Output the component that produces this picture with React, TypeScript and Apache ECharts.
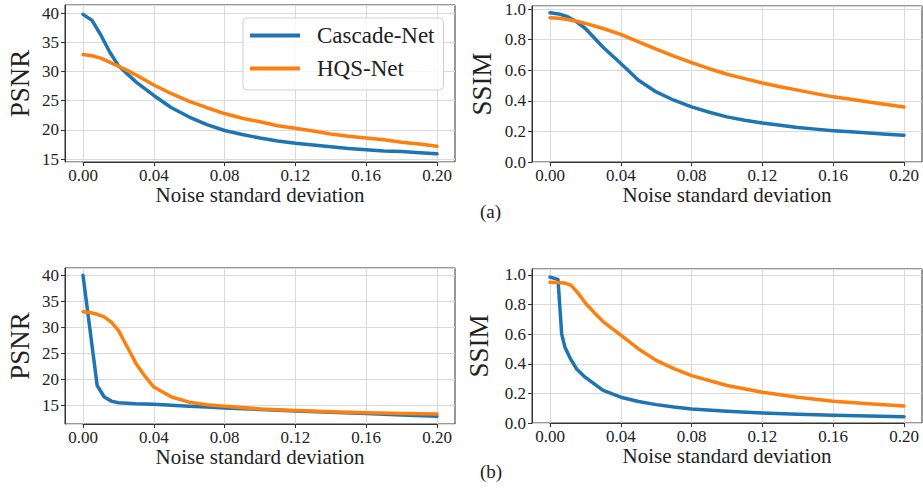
import React, { useEffect, useRef } from "react";
import * as echarts from "echarts";

// ---------- data ----------
const SERIES_NAMES = ["Cascade-Net", "HQS-Net"];
const X_LABEL = "Noise standard deviation";

// (a) PSNR
const aPsnrX = [0, 0.005, 0.01, 0.015, 0.02, 0.025, 0.03, 0.04, 0.05, 0.06, 0.07, 0.08, 0.09, 0.1, 0.11, 0.12, 0.13, 0.14, 0.15, 0.16, 0.17, 0.18, 0.19, 0.2];
const aPsnrCascade = [39.8, 38.8, 36.3, 33.4, 31.0, 29.6, 28.2, 25.9, 23.8, 22.2, 20.9, 19.9, 19.2, 18.6, 18.1, 17.7, 17.4, 17.1, 16.8, 16.6, 16.4, 16.3, 16.1, 15.9];
const aPsnrHqs = [32.9, 32.7, 32.3, 31.6, 30.9, 30.2, 29.4, 27.7, 26.2, 24.9, 23.8, 22.8, 22.0, 21.4, 20.7, 20.3, 19.8, 19.3, 18.9, 18.6, 18.3, 17.9, 17.6, 17.2];

// (a) SSIM
const aSsimX = [0, 0.005, 0.01, 0.015, 0.02, 0.03, 0.04, 0.05, 0.06, 0.07, 0.08, 0.09, 0.1, 0.11, 0.12, 0.13, 0.14, 0.15, 0.16, 0.17, 0.18, 0.19, 0.2];
const aSsimCascade = [0.976, 0.968, 0.95, 0.917, 0.873, 0.75, 0.644, 0.535, 0.458, 0.404, 0.36, 0.325, 0.295, 0.273, 0.255, 0.24, 0.226, 0.215, 0.205, 0.197, 0.19, 0.182, 0.175];
const aSsimHqs = [0.943, 0.94, 0.932, 0.92, 0.906, 0.873, 0.834, 0.786, 0.738, 0.692, 0.65, 0.61, 0.574, 0.545, 0.517, 0.492, 0.47, 0.447, 0.426, 0.41, 0.393, 0.376, 0.36];

// (b) PSNR
const bPsnrCascadeX = [0, 0.004, 0.008, 0.012, 0.016, 0.02, 0.025, 0.03, 0.035, 0.04, 0.05, 0.06, 0.07, 0.08, 0.1, 0.12, 0.14, 0.16, 0.18, 0.2];
const bPsnrCascade = [40.0, 29.4, 18.8, 16.6, 15.8, 15.5, 15.4, 15.3, 15.25, 15.2, 15.0, 14.8, 14.65, 14.5, 14.2, 13.9, 13.65, 13.4, 13.15, 12.9];
const bPsnrHqsX = [0, 0.004, 0.008, 0.012, 0.016, 0.02, 0.025, 0.03, 0.035, 0.04, 0.05, 0.06, 0.07, 0.08, 0.1, 0.12, 0.14, 0.16, 0.18, 0.2];
const bPsnrHqs = [33.0, 32.85, 32.5, 32.0, 31.0, 29.4, 26.2, 23.0, 20.6, 18.5, 16.6, 15.6, 15.1, 14.8, 14.3, 14.0, 13.75, 13.55, 13.4, 13.3];

// (b) SSIM
const bSsimCascadeX = [0, 0.0045, 0.0053, 0.0066, 0.0085, 0.0115, 0.015, 0.02, 0.03, 0.04, 0.05, 0.06, 0.07, 0.08, 0.1, 0.12, 0.14, 0.16, 0.18, 0.2];
const bSsimCascade = [0.985, 0.97, 0.83, 0.6, 0.51, 0.435, 0.365, 0.308, 0.22, 0.174, 0.145, 0.124, 0.108, 0.095, 0.079, 0.068, 0.059, 0.052, 0.047, 0.043];
const bSsimHqsX = [0, 0.004, 0.008, 0.012, 0.016, 0.02, 0.025, 0.03, 0.04, 0.05, 0.06, 0.07, 0.08, 0.1, 0.12, 0.14, 0.16, 0.18, 0.2];
const bSsimHqs = [0.95, 0.949, 0.946, 0.93, 0.875, 0.81, 0.745, 0.685, 0.593, 0.5, 0.423, 0.367, 0.32, 0.253, 0.208, 0.174, 0.147, 0.13, 0.115];

// ---------- styling ----------
const FONT = "Liberation Serif";
const BLUE = "#1f75b2";
const ORANGE = "#ff7f0e";
const AXIS_COLOR = "#333";
const TEXT_COLOR = "#222";
const GRID_COLOR = "#d9d9d9";

const zip = (xs: number[], ys: number[]) => xs.map((x, i) => [x, ys[i]]);

// panel layout: outer box (matplotlib axes) and inner data span (x 0..0.2)
const PANELS = [
  { left: 65, top: 5, height: 157, yName: "PSNR", yMin: 14.5, yMax: 41.4, yInterval: 5, digits: 0, nameGap: 32 },
  { left: 532, top: 6, height: 156, yName: "SSIM", yMin: 0, yMax: 1.02, yInterval: 0.2, digits: 1, nameGap: 37 },
  { left: 65, top: 268, height: 156, yName: "PSNR", yMin: 11.4, yMax: 41.4, yInterval: 5, digits: 0, nameGap: 32 },
  { left: 532, top: 269, height: 154, yName: "SSIM", yMin: 0, yMax: 1.04, yInterval: 0.2, digits: 1, nameGap: 40 },
];
const OUTER_W = 390;
const INNER_OFFSET = 18;
const INNER_W = 354;

const labelStyle = { fontSize: 17, color: TEXT_COLOR, fontFamily: FONT };

function line(name: string, color: string, idx: number, data: number[][]) {
  return {
    type: "line",
    name,
    xAxisIndex: idx,
    yAxisIndex: idx,
    data,
    symbol: "none",
    smooth: false,
    lineStyle: { color, width: 3.5, join: "round", cap: "round" },
    itemStyle: { color },
    z: 3,
  };
}

export default function App() {
  const ref = useRef<HTMLDivElement>(null);

  useEffect(() => {
    if (!ref.current) return;
    const chart = echarts.init(ref.current, null, { renderer: "svg" });

    const grids: any[] = [];
    const xAxes: any[] = [];
    const yAxes: any[] = [];
    PANELS.forEach((p, i) => {
      // outer grid: box + y axis
      grids.push({ left: p.left, top: p.top, width: OUTER_W, height: p.height, show: true, borderColor: AXIS_COLOR, borderWidth: 1, backgroundColor: "transparent" });
      // inner grid: x span of data
      grids.push({ left: p.left + INNER_OFFSET, top: p.top, width: INNER_W, height: p.height, show: false });

      xAxes.push({ type: "value", gridIndex: 2 * i, min: -0.01, max: 0.21, show: false });
      xAxes.push({
        type: "value",
        gridIndex: 2 * i + 1,
        min: 0,
        max: 0.2,
        interval: 0.04,
        axisLine: { show: true, onZero: false, lineStyle: { color: AXIS_COLOR, width: 1 } },
        axisTick: { show: true, length: 4, lineStyle: { color: AXIS_COLOR } },
        axisLabel: { ...labelStyle, margin: 5, formatter: (v: number) => v.toFixed(2) },
        splitLine: { show: true, lineStyle: { color: GRID_COLOR, width: 1 } },
        name: X_LABEL,
        nameLocation: "middle",
        nameGap: 22,
        nameTextStyle: { fontSize: 21, color: TEXT_COLOR, fontFamily: FONT },
      });

      const yCommon = { type: "value", min: p.yMin, max: p.yMax };
      yAxes.push({
        ...yCommon,
        gridIndex: 2 * i,
        ...(p.yMin === 0 ? { interval: p.yInterval } : { splitNumber: 5 }),
        axisLine: { show: true, onZero: false, lineStyle: { color: AXIS_COLOR, width: 1 } },
        axisTick: { show: true, length: 4, lineStyle: { color: AXIS_COLOR } },
        axisLabel: {
          ...labelStyle,
          margin: 6,
          showMinLabel: p.yMin === 0,
          showMaxLabel: false,
          formatter: (v: number) => v.toFixed(p.digits),
        },
        splitLine: { show: true, lineStyle: { color: GRID_COLOR, width: 1 } },
        name: p.yName,
        nameLocation: "middle",
        nameGap: p.nameGap,
        nameTextStyle: { fontSize: 27, color: TEXT_COLOR, fontFamily: FONT },
      });
      yAxes.push({ ...yCommon, gridIndex: 2 * i + 1, show: false, splitLine: { show: false } });
    });

    chart.setOption({
      animation: false,
      backgroundColor: "#fff",
      textStyle: { fontFamily: FONT, color: TEXT_COLOR },
      grid: grids,
      xAxis: xAxes,
      yAxis: yAxes,
      legend: {
        data: SERIES_NAMES,
        orient: "vertical",
        left: 243,
        top: 18,
        icon: "rect",
        itemWidth: 50,
        itemHeight: 4,
        itemGap: 10,
        padding: [6, 9, 10, 7],
        backgroundColor: "rgba(255,255,255,0.8)",
        borderColor: "#d0d0d0",
        borderWidth: 1,
        borderRadius: 4,
        textStyle: { fontSize: 23, lineHeight: 23, color: TEXT_COLOR, fontFamily: FONT, padding: [0, 0, 0, 12] },
        z: 10,
      },
      graphic: [
        { type: "text", left: 480, top: 202, style: { text: "(a)", fontSize: 19, fontFamily: FONT, fill: TEXT_COLOR } },
        { type: "text", left: 480, top: 462, style: { text: "(b)", fontSize: 19, fontFamily: FONT, fill: TEXT_COLOR } },
      ],
      series: [
        line(SERIES_NAMES[0], BLUE, 1, zip(aPsnrX, aPsnrCascade)),
        line(SERIES_NAMES[1], ORANGE, 1, zip(aPsnrX, aPsnrHqs)),
        line(SERIES_NAMES[0], BLUE, 3, zip(aSsimX, aSsimCascade)),
        line(SERIES_NAMES[1], ORANGE, 3, zip(aSsimX, aSsimHqs)),
        line(SERIES_NAMES[0], BLUE, 5, zip(bPsnrCascadeX, bPsnrCascade)),
        line(SERIES_NAMES[1], ORANGE, 5, zip(bPsnrHqsX, bPsnrHqs)),
        line(SERIES_NAMES[0], BLUE, 7, zip(bSsimCascadeX, bSsimCascade)),
        line(SERIES_NAMES[1], ORANGE, 7, zip(bSsimHqsX, bSsimHqs)),
      ],
    });
    return () => chart.dispose();
  }, []);

  return (
    <div
      ref={ref}
      style={{ position: "fixed", left: 0, top: 0, width: 923, height: 489, background: "#fff" }}
    />
  );
}
